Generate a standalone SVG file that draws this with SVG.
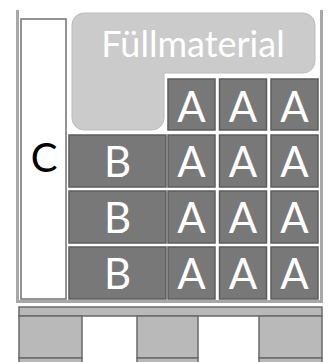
<svg xmlns="http://www.w3.org/2000/svg" width="329" height="362" viewBox="0 0 329 362">
<style>
.box{fill:#787878;stroke:#5c5c5c;stroke-width:1.5}
.lbl{font-family:Lato,"Open Sans","Liberation Sans",sans-serif;font-size:42px;fill:#ffffff;text-anchor:middle}
.pal{fill:#b9b9b9;stroke:#6a6a6a;stroke-width:1.5}
.wall{fill:#a8a8a8}
</style>
<rect width="329" height="362" fill="#ffffff"/>
<g id="container">
<rect class="wall" x="16" y="10" width="3" height="293"/>
<rect class="wall" x="320" y="10" width="3" height="293"/>
<rect class="wall" x="16" y="300" width="307" height="3"/>
</g>
<g id="C">
<rect x="21" y="19" width="45" height="280" fill="#ffffff" stroke="#707070" stroke-width="1.5"/>
<text x="44" y="172" font-family="Lato,'Open Sans','Liberation Sans',sans-serif" font-size="40" fill="#000000" text-anchor="middle">C</text>
</g>
<g id="fuellmaterial">
<path d="M84,13 H303 A12,12 0 0 1 315,25 V61 A12,12 0 0 1 303,73 H164 V118 A12,12 0 0 1 152,130 H84 A12,12 0 0 1 72,118 V25 A12,12 0 0 1 84,13 Z" fill="#cbcbcb" stroke="#bdbdbd" stroke-width="1"/>
<text x="193" y="57" font-family="Lato,'Open Sans','Liberation Sans',sans-serif" font-size="36" fill="#ffffff" text-anchor="middle">Füllmaterial</text>
</g>
<g id="A-grid">
<rect class="box" x="168" y="79" width="47" height="51"/><text class="lbl" x="191.5" y="122">A</text>
<rect class="box" x="219.5" y="79" width="47" height="51"/><text class="lbl" x="243" y="122">A</text>
<rect class="box" x="271" y="79" width="47" height="51"/><text class="lbl" x="294.5" y="122">A</text>
<rect class="box" x="168" y="135" width="47" height="52"/><text class="lbl" x="191.5" y="177">A</text>
<rect class="box" x="219.5" y="135" width="47" height="52"/><text class="lbl" x="243" y="177">A</text>
<rect class="box" x="271" y="135" width="47" height="52"/><text class="lbl" x="294.5" y="177">A</text>
<rect class="box" x="168" y="191" width="47" height="52"/><text class="lbl" x="191.5" y="233">A</text>
<rect class="box" x="219.5" y="191" width="47" height="52"/><text class="lbl" x="243" y="233">A</text>
<rect class="box" x="271" y="191" width="47" height="52"/><text class="lbl" x="294.5" y="233">A</text>
<rect class="box" x="168" y="247" width="47" height="52"/><text class="lbl" x="191.5" y="289">A</text>
<rect class="box" x="219.5" y="247" width="47" height="52"/><text class="lbl" x="243" y="289">A</text>
<rect class="box" x="271" y="247" width="47" height="52"/><text class="lbl" x="294.5" y="289">A</text>
</g>
<g id="B-column">
<rect class="box" x="69" y="135" width="97" height="52"/><text class="lbl" x="117.5" y="177">B</text>
<rect class="box" x="69" y="191" width="97" height="52"/><text class="lbl" x="117.5" y="233">B</text>
<rect class="box" x="69" y="247" width="97" height="52"/><text class="lbl" x="117.5" y="289">B</text>
</g>
<g id="pallet">
<rect class="pal" x="19" y="307" width="303" height="9"/>
<rect class="pal" x="19" y="316" width="63" height="42"/>
<rect class="pal" x="137" y="316" width="61" height="42"/>
<rect class="pal" x="259" y="316" width="63" height="42"/>
<rect class="pal" x="19" y="358" width="63" height="10"/>
<rect class="pal" x="137" y="358" width="61" height="10"/>
<rect class="pal" x="259" y="358" width="63" height="10"/>
</g>
<g id="connectors"></g>
</svg>
